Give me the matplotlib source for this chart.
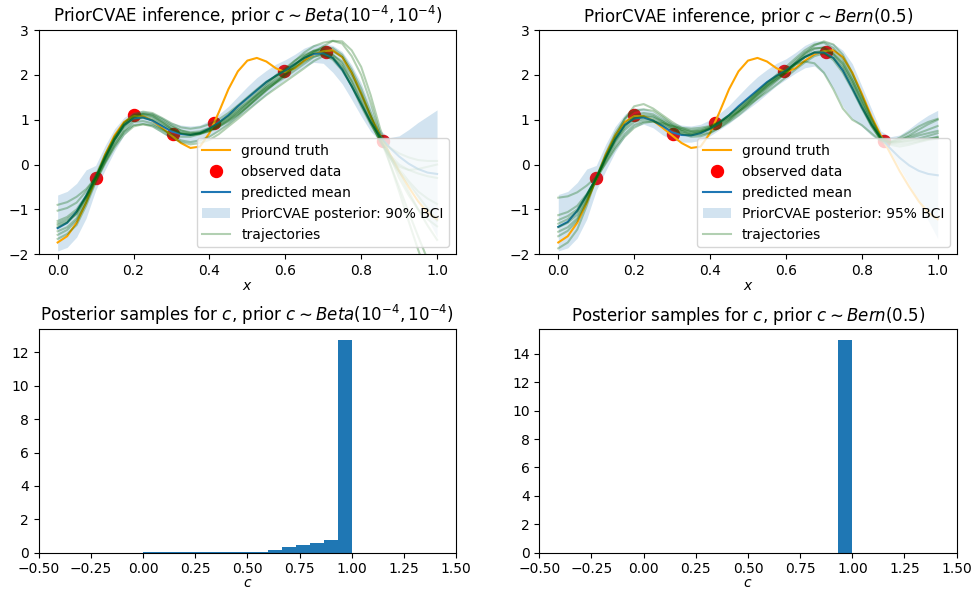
import matplotlib
matplotlib.use("Agg")
import matplotlib.pyplot as plt
import numpy as np
from matplotlib.lines import Line2D
from matplotlib.patches import Patch

# --- observed data (same for both panels) ---
obs_x = [0.10, 0.20, 0.303, 0.413, 0.596, 0.706, 0.858]
obs_y = [-0.31, 1.10, 0.68, 0.92, 2.08, 2.52, 0.52]

# grid (step 0.025) shared by every curve
x_grid = np.linspace(0.0, 1.0, 41)
truth = [-1.74, -1.60, -1.30, -0.85, -0.32, 0.22, 0.65, 0.95, 1.08, 1.08,
         0.98, 0.82, 0.65, 0.48, 0.37, 0.40, 0.70, 1.17, 1.68, 2.08,
         2.32, 2.38, 2.30, 2.15, 2.06, 2.15, 2.32, 2.46, 2.53, 2.55,
         2.40, 2.05, 1.58, 1.08, 0.65, 0.25, -0.15, -0.50, -0.82, -1.07,
         -1.22]

mean_beta = [-1.42, -1.30, -1.05, -0.70, -0.30, 0.15, 0.56, 0.88, 1.03, 1.05,
             0.98, 0.86, 0.74, 0.68, 0.66, 0.70, 0.80, 0.94, 1.10, 1.30,
             1.48, 1.66, 1.84, 1.98, 2.10, 2.24, 2.38, 2.47, 2.48, 2.38,
             2.12, 1.75, 1.35, 0.95, 0.62, 0.38, 0.18, 0.02, -0.10, -0.18,
             -0.21]
upper_beta = [-0.68, -0.60, -0.42, -0.12, -0.02, 0.42, 0.80, 1.05, 1.18, 1.20,
              1.16, 1.06, 0.94, 0.88, 0.86, 0.88, 0.98, 1.12, 1.30, 1.52,
              1.74, 1.94, 2.10, 2.24, 2.34, 2.46, 2.60, 2.68, 2.70, 2.66,
              2.52, 2.22, 1.82, 1.30, 0.76, 0.60, 0.64, 0.78, 0.94, 1.08,
              1.22]
lower_beta = [-1.93, -1.85, -1.62, -1.20, -0.58, -0.12, 0.30, 0.66, 0.88, 0.92,
              0.84, 0.70, 0.58, 0.50, 0.48, 0.52, 0.62, 0.76, 0.90, 1.06,
              1.22, 1.38, 1.56, 1.74, 1.90, 2.04, 2.18, 2.28, 2.26, 2.06,
              1.80, 1.45, 1.08, 0.74, 0.52, 0.30, -0.05, -0.40, -0.78, -1.20,
              -1.62]

mean_bern = [-1.39, -1.28, -1.03, -0.68, -0.30, 0.15, 0.56, 0.88, 1.03, 1.05,
             0.98, 0.86, 0.72, 0.66, 0.65, 0.70, 0.80, 0.94, 1.10, 1.30,
             1.48, 1.66, 1.84, 1.98, 2.10, 2.26, 2.40, 2.50, 2.50, 2.38,
             2.10, 1.70, 1.28, 0.90, 0.60, 0.36, 0.15, -0.02, -0.14, -0.21,
             -0.24]
upper_bern = [-0.67, -0.60, -0.40, -0.10, -0.02, 0.45, 0.85, 1.12, 1.26, 1.26,
              1.18, 1.06, 0.94, 0.88, 0.86, 0.90, 1.00, 1.14, 1.32, 1.54,
              1.76, 1.96, 2.12, 2.26, 2.36, 2.50, 2.66, 2.76, 2.76, 2.70,
              2.55, 2.25, 1.75, 1.25, 0.75, 0.62, 0.66, 0.80, 0.96, 1.10,
              1.21]
lower_bern = [-1.93, -1.86, -1.64, -1.22, -0.58, -0.14, 0.28, 0.62, 0.84, 0.90,
              0.82, 0.66, 0.56, 0.50, 0.50, 0.54, 0.64, 0.78, 0.92, 1.08,
              1.24, 1.40, 1.58, 1.76, 1.90, 2.04, 2.16, 2.20, 2.02, 1.70,
              1.30, 1.02, 0.85, 0.65, 0.50, 0.28, -0.08, -0.45, -0.85, -1.25,
              -1.65]

# posterior trajectories, same 0.025 grid
traj_beta = [
    [-0.90, -0.84, -0.72, -0.55, -0.30, 0.13, 0.55, 0.86, 1.05, 1.13, 1.10, 0.97, 0.85, 0.76, 0.72, 0.74, 0.82, 0.94, 1.08, 1.25, 1.42, 1.61, 1.80, 1.99, 2.15, 2.32, 2.45, 2.54, 2.55, 2.46, 2.25, 1.86, 1.40, 0.96, 0.60, 0.38, 0.25, 0.16, 0.10, 0.08, 0.08],
    [-1.03, -0.97, -0.85, -0.60, -0.28, 0.18, 0.60, 0.93, 1.12, 1.18, 1.15, 1.04, 0.92, 0.83, 0.80, 0.83, 0.90, 1.01, 1.15, 1.32, 1.50, 1.68, 1.85, 1.97, 2.10, 2.25, 2.40, 2.54, 2.62, 2.60, 2.45, 2.12, 1.70, 1.17, 0.65, 0.23, -0.10, -0.37, -0.60, -0.76, -0.88],
    [-1.26, -1.17, -1.00, -0.70, -0.32, 0.10, 0.50, 0.81, 1.00, 1.04, 1.00, 0.89, 0.78, 0.71, 0.68, 0.72, 0.80, 0.90, 1.02, 1.18, 1.35, 1.54, 1.72, 1.89, 2.05, 2.22, 2.38, 2.49, 2.52, 2.40, 2.15, 1.75, 1.30, 0.90, 0.55, 0.18, -0.20, -0.60, -1.00, -1.36, -1.68],
    [-1.31, -1.22, -1.05, -0.74, -0.35, 0.05, 0.42, 0.74, 0.95, 0.97, 0.92, 0.79, 0.65, 0.54, 0.50, 0.54, 0.62, 0.75, 0.90, 1.08, 1.28, 1.49, 1.68, 1.82, 1.95, 2.10, 2.25, 2.40, 2.48, 2.44, 2.30, 1.98, 1.55, 1.08, 0.58, 0.04, -0.50, -1.06, -1.60, -2.12, -2.60],
    [-1.35, -1.27, -1.10, -0.72, -0.25, 0.22, 0.62, 0.92, 1.10, 1.13, 1.08, 0.95, 0.80, 0.70, 0.66, 0.69, 0.76, 0.86, 1.00, 1.17, 1.36, 1.56, 1.76, 1.94, 2.12, 2.31, 2.50, 2.64, 2.72, 2.76, 2.70, 2.42, 2.00, 1.38, 0.70, 0.04, -0.60, -1.26, -1.90, -2.48, -3.00],
    [-1.49, -1.40, -1.20, -0.80, -0.30, 0.17, 0.58, 0.90, 1.08, 1.14, 1.12, 1.01, 0.88, 0.76, 0.70, 0.70, 0.75, 0.85, 0.98, 1.13, 1.30, 1.48, 1.66, 1.83, 2.00, 2.18, 2.35, 2.50, 2.64, 2.76, 2.75, 2.55, 2.18, 1.55, 0.80, 0.20, -0.30, -0.68, -1.00, -1.22, -1.38],
    [-1.57, -1.46, -1.25, -0.85, -0.38, 0.06, 0.45, 0.73, 0.88, 0.90, 0.85, 0.73, 0.60, 0.50, 0.45, 0.48, 0.55, 0.68, 0.85, 1.02, 1.20, 1.38, 1.55, 1.70, 1.85, 2.00, 2.15, 2.31, 2.42, 2.38, 2.20, 1.87, 1.45, 0.98, 0.50, 0.17, -0.05, -0.12, -0.10, -0.05, 0.00],
    [-1.66, -1.55, -1.35, -0.92, -0.40, 0.02, 0.38, 0.67, 0.85, 0.90, 0.88, 0.78, 0.68, 0.62, 0.62, 0.68, 0.78, 0.91, 1.06, 1.22, 1.38, 1.55, 1.72, 1.86, 2.02, 2.22, 2.42, 2.53, 2.58, 2.53, 2.40, 2.05, 1.60, 1.08, 0.55, 0.15, -0.15, -0.43, -0.70, -0.98, -1.25],
    [-1.40, -1.30, -1.10, -0.74, -0.30, 0.14, 0.55, 0.86, 1.05, 1.09, 1.05, 0.93, 0.80, 0.70, 0.66, 0.68, 0.74, 0.84, 0.96, 1.11, 1.28, 1.46, 1.65, 1.83, 2.00, 2.16, 2.30, 2.41, 2.45, 2.34, 2.10, 1.75, 1.35, 0.92, 0.52, 0.22, 0.00, -0.12, -0.20, -0.26, -0.30],
]
traj_bern = [
    [-0.74, -0.71, -0.62, -0.47, -0.28, 0.02, 0.35, 0.62, 0.82, 0.93, 0.96, 0.92, 0.86, 0.82, 0.80, 0.82, 0.86, 0.94, 1.05, 1.18, 1.32, 1.47, 1.62, 1.78, 1.95, 2.12, 2.28, 2.42, 2.48, 2.38, 2.15, 1.76, 1.30, 0.87, 0.55, 0.50, 0.60, 0.72, 0.85, 0.95, 1.02],
    [-1.13, -1.06, -0.92, -0.66, -0.32, 0.16, 0.62, 1.02, 1.30, 1.35, 1.25, 1.10, 0.95, 0.82, 0.75, 0.76, 0.82, 0.94, 1.10, 1.27, 1.45, 1.63, 1.82, 2.00, 2.18, 2.37, 2.55, 2.68, 2.72, 2.60, 2.35, 1.96, 1.50, 1.04, 0.62, 0.52, 0.55, 0.62, 0.70, 0.78, 0.86],
    [-1.24, -1.15, -1.00, -0.68, -0.30, 0.14, 0.55, 0.86, 1.05, 1.10, 1.08, 0.96, 0.82, 0.74, 0.70, 0.72, 0.78, 0.88, 1.00, 1.17, 1.35, 1.54, 1.72, 1.89, 2.05, 2.23, 2.40, 2.50, 2.50, 2.33, 2.05, 1.67, 1.25, 0.86, 0.55, 0.50, 0.52, 0.58, 0.65, 0.70, 0.75],
    [-1.32, -1.22, -1.05, -0.71, -0.30, 0.13, 0.52, 0.82, 1.02, 1.07, 1.05, 0.96, 0.85, 0.78, 0.75, 0.78, 0.85, 0.96, 1.10, 1.25, 1.42, 1.61, 1.80, 1.96, 2.12, 2.32, 2.50, 2.60, 2.60, 2.45, 2.20, 1.82, 1.38, 0.94, 0.58, 0.50, 0.50, 0.53, 0.58, 0.64, 0.70],
    [-1.40, -1.30, -1.12, -0.74, -0.28, 0.18, 0.60, 0.91, 1.10, 1.15, 1.12, 1.00, 0.88, 0.75, 0.66, 0.67, 0.72, 0.82, 0.95, 1.10, 1.28, 1.48, 1.68, 1.86, 2.05, 2.27, 2.48, 2.66, 2.75, 2.68, 2.45, 2.04, 1.55, 1.04, 0.60, 0.47, 0.45, 0.48, 0.52, 0.57, 0.62],
    [-1.50, -1.40, -1.20, -0.80, -0.32, 0.10, 0.48, 0.77, 0.95, 1.01, 1.00, 0.92, 0.80, 0.69, 0.62, 0.63, 0.70, 0.82, 0.98, 1.16, 1.35, 1.55, 1.75, 1.94, 2.10, 2.24, 2.30, 2.26, 2.05, 1.68, 1.25, 1.00, 0.88, 0.70, 0.52, 0.44, 0.40, 0.44, 0.50, 0.55, 0.58],
    [-1.60, -1.48, -1.25, -0.82, -0.35, 0.05, 0.40, 0.68, 0.88, 0.96, 0.96, 0.88, 0.78, 0.70, 0.68, 0.73, 0.82, 0.93, 1.06, 1.21, 1.38, 1.57, 1.75, 1.90, 2.05, 2.23, 2.40, 2.51, 2.55, 2.46, 2.25, 1.88, 1.45, 0.98, 0.58, 0.50, 0.55, 0.65, 0.78, 0.90, 1.00],
    [-1.87, -1.74, -1.45, -0.92, -0.30, 0.24, 0.70, 1.02, 1.20, 1.23, 1.20, 1.06, 0.90, 0.78, 0.72, 0.74, 0.80, 0.89, 1.02, 1.20, 1.40, 1.60, 1.78, 1.93, 2.08, 2.27, 2.45, 2.58, 2.62, 2.50, 2.28, 1.88, 1.40, 0.92, 0.55, 0.48, 0.50, 0.53, 0.55, 0.58, 0.60],
]

# posterior samples for c, as density histograms (15 bins on [0, 1])
c_bin_edges = np.linspace(0.0, 1.0, 16)
c_density_beta = [0.02, 0.02, 0.02, 0.03, 0.03, 0.03, 0.04, 0.04, 0.05,
                  0.16, 0.34, 0.46, 0.58, 0.76, 12.76]
c_density_bern = [0.01, 0.01, 0.01, 0.01, 0.01, 0.01, 0.01, 0.01, 0.01,
                  0.01, 0.01, 0.01, 0.01, 0.01, 15.0]

TITLES_TOP = [r"PriorCVAE inference, prior $c \sim Beta(10^{-4}, 10^{-4})$",
              r"PriorCVAE inference, prior $c \sim Bern(0.5)$"]
TITLES_BOT = [r"Posterior samples for $c$, prior $c \sim Beta(10^{-4}, 10^{-4})$",
              r"Posterior samples for $c$, prior $c \sim Bern(0.5)$"]
BCI_LABELS = ["PriorCVAE posterior: 90% BCI", "PriorCVAE posterior: 95% BCI"]

TRAJ_COLOR = "darkgreen"
TRAJ_ALPHA = 0.3

fig = plt.figure(figsize=(9.74, 5.91), dpi=100)
ax_tl = fig.add_axes([0.0397, 0.570, 0.4285, 0.379])
ax_tr = fig.add_axes([0.5537, 0.570, 0.4285, 0.379])
ax_bl = fig.add_axes([0.0397, 0.0648, 0.4285, 0.3785])
ax_br = fig.add_axes([0.5537, 0.0648, 0.4285, 0.3785])

panels = [
    (ax_tl, mean_beta, lower_beta, upper_beta, traj_beta),
    (ax_tr, mean_bern, lower_bern, upper_bern, traj_bern),
]
for i, (ax, mean, lo, hi, trajs) in enumerate(panels):
    # dots sit under the band and the trajectories (they look darkened)
    ax.scatter(obs_x, obs_y, color="red", s=75, zorder=1)
    ax.plot(x_grid, truth, color="orange", lw=1.5, zorder=3)
    ax.fill_between(x_grid, lo, hi, color="C0", alpha=0.2, lw=0, zorder=2)
    ax.plot(x_grid, mean, color="C0", lw=1.5, zorder=4)
    for tr in trajs:
        ax.plot(x_grid, tr, color=TRAJ_COLOR, alpha=TRAJ_ALPHA, lw=1.5, zorder=5)
    ax.set_ylim(-2, 3)
    ax.set_xlabel("$x$", labelpad=1)
    ax.set_title(TITLES_TOP[i], fontsize=12)
    handles = [
        Line2D([], [], color="orange", lw=1.5),
        Line2D([], [], marker="o", color="red", ls="", markersize=8.6),
        Line2D([], [], color="C0", lw=1.5),
        Patch(facecolor="C0", alpha=0.2, lw=0),
        Line2D([], [], color=TRAJ_COLOR, alpha=TRAJ_ALPHA, lw=1.5),
    ]
    labels = ["ground truth", "observed data", "predicted mean",
              BCI_LABELS[i], "trajectories"]
    ax.legend(handles, labels, loc="lower right")

for ax, dens, title in [(ax_bl, c_density_beta, TITLES_BOT[0]),
                        (ax_br, c_density_bern, TITLES_BOT[1])]:
    ax.hist(c_bin_edges[:-1], bins=c_bin_edges, weights=dens, color="C0")
    ax.set_xlim(-0.5, 1.5)
    ax.set_xlabel("$c$", labelpad=0)
    ax.set_title(title, fontsize=12)

fig.savefig("out.png", dpi=100)
